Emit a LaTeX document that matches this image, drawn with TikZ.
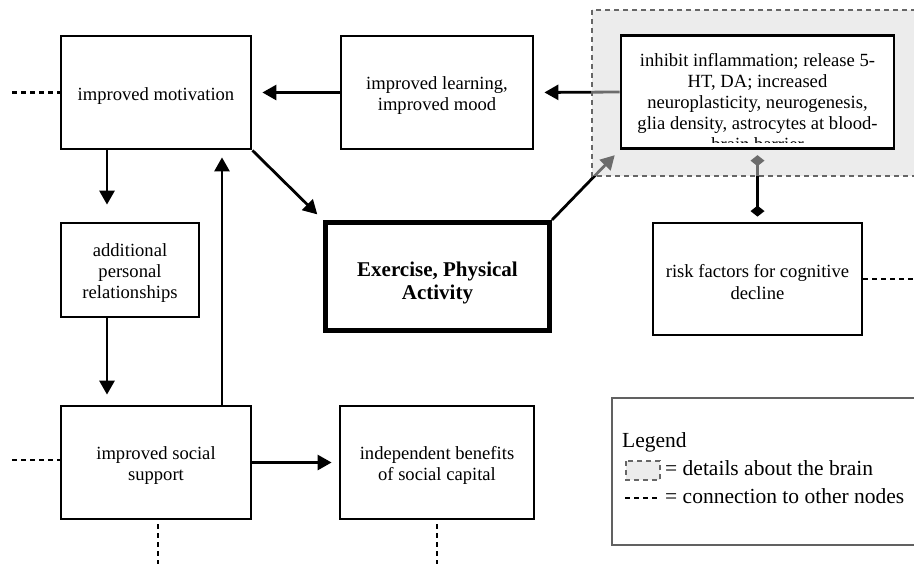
\documentclass[tikz,border=0pt]{standalone}
\usepackage{fontspec}
\setmainfont{Liberation Serif}
\usetikzlibrary{arrows.meta}
\tikzset{diam/.tip={Diamond[length=11pt,width=14pt]}}
\newcommand{\toppad}{\rule{0pt}{19pt}}
\newcommand{\toppadb}{\rule{0pt}{27pt}}
\begin{document}
\begin{tikzpicture}[x=1pt,y=-1pt,
  box/.style={draw, line width=2.8pt, fill=white, align=center, inner sep=0pt,
    font=\fontsize{18.6}{21.2}\selectfont},
  arr/.style={line width=2.8pt, -{Triangle[length=14pt,width=15pt]}},
  conn/.style={line width=2.6pt, dash pattern=on 5pt off 4pt},
  brainfill/.style={fill=black!15, fill opacity=0.5},
  brainedge/.style={draw=black!60, line width=2.6pt, dash pattern=on 5pt off 4pt},
  lfont/.style={anchor=base west, inner sep=0pt, font=\fontsize{21.5}{24}\selectfont}
]
\useasboundingbox (0,0) rectangle (914,563);
\clip (0,0) rectangle (914,563);

% boxes
\node[box, minimum width=190pt, minimum height=113pt] (mot) at (156,92.5) {\toppad improved motivation};
\node[box, minimum width=192pt, minimum height=113pt] (lrn) at (437,92.5) {\toppad improved learning,\\improved mood};
\node[box, line width=5pt, minimum width=224pt, minimum height=108pt,
  font=\bfseries\fontsize{21}{23}\selectfont] (ex) at (437.5,276.5) {\toppadb Exercise, Physical\\Activity};
\node[box, minimum width=138pt, minimum height=94pt] (add) at (130,270) {\toppad additional\\personal\\relationships};
\node[box, minimum width=190pt, minimum height=113pt] (soc) at (156,462.5) {\toppad improved social\\support};
\node[box, minimum width=194pt, minimum height=113pt] (ind) at (437,462.5) {\toppad independent benefits\\of social capital};
\node[box, minimum width=209pt, minimum height=112pt] (risk) at (757.5,279) {\toppad risk factors for cognitive\\decline};
% invisible placeholder for the brain box (drawn later on top of the overlay)
\node[inner sep=0pt, outer sep=1.4pt, minimum width=273pt, minimum height=113.5pt] (inh) at (757.5,92) {};

% helper coordinates
\coordinate (xa) at (107,0);
\coordinate (xb) at (222,0);
\coordinate (c1) at (12,92.5);
\coordinate (c2) at (12,460);
\coordinate (c3) at (920,279);
\coordinate (c4) at (158,570);
\coordinate (c5) at (437,570);

% arrows
\draw[arr, shorten >=17pt] (mot.south -| xa) -- (add.north -| xa);
\draw[arr, shorten >=10pt] (add.south -| xa) -- (soc.north -| xa);
\draw[arr, shorten >=7pt] (soc.north -| xb) -- (mot.south -| xb);
\draw[arr, shorten >=7pt] (soc.east) -- (ind.west);
\draw[arr, shorten >=10pt] (lrn.west) -- (mot.east);
\draw[arr, shorten >=10pt] (inh.west) -- (lrn.east);
\draw[arr, shorten >=8pt] (mot.south east) -- (ex.north west);
\draw[arr, shorten >=7pt] (ex.north east) -- (inh.south west);
\draw[line width=2.8pt, diam-diam, shorten <=5pt, shorten >=5pt] (inh.south) -- (risk.north);

% connections to other nodes
\draw[conn] (c1) -- (mot.west);
\draw[conn] (c2) -- (c2 -| soc.west);
\draw[conn] (risk.east) -- (c3);
\draw[conn] ([xshift=2pt,yshift=-4pt]soc.south) -- (c4);
\draw[conn] ([yshift=-4pt]ind.south) -- (c5);

% brain details region
\fill[brainfill] (592,10) rectangle (930,176);
\draw[brainedge] (592,10) rectangle (930,176);
\node[box, minimum width=273pt, minimum height=113.5pt] (inhbox) at (inh.center) {};
\begin{scope}
  \clip ([yshift=8pt]inhbox.south west) rectangle (inhbox.north east);
  \node[anchor=north, align=center, inner sep=0pt, font=\fontsize{18.6}{21}\selectfont] (inhtxt) at (757.5,53.3)
    {inhibit inflammation; release 5-\\HT, DA; increased\\neuroplasticity, neurogenesis,\\glia density, astrocytes at blood-\\brain barrier};
\end{scope}

% legend
\draw[draw=black!62, line width=2.6pt] (612,398) rectangle (930,545);
\node[lfont] (lg) at (622,447) {Legend};
\fill[brainfill] (626,461) rectangle (660,480);
\draw[brainedge, line width=2.2pt] (626,461) rectangle (660,480);
\node[lfont] (lg1) at (665,475) {= details about the brain};
\coordinate (d1) at (625,498);
\coordinate (d2) at (660,498);
\draw[conn] (d1) -- (d2);
\node[lfont] (lg2) at (665,503) {= connection to other nodes};
\end{tikzpicture}
\end{document}
